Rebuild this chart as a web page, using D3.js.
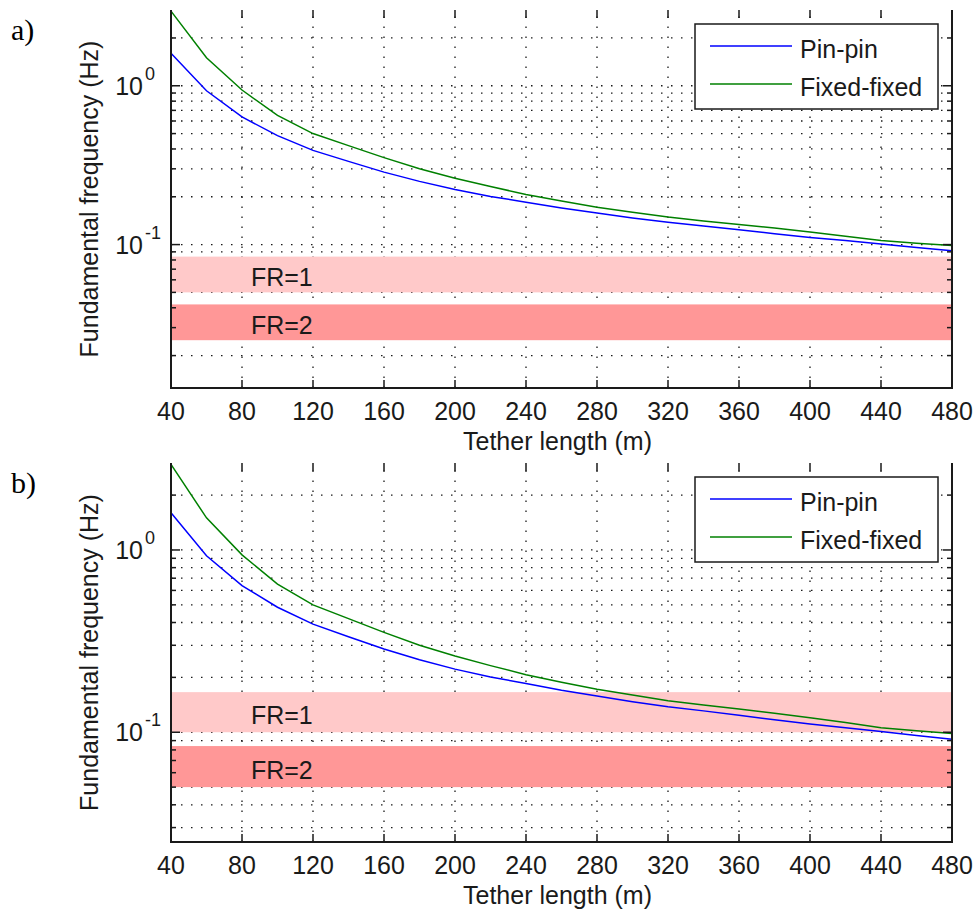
<!DOCTYPE html>
<html>
<head>
<meta charset="utf-8">
<title>Fundamental frequency vs tether length</title>
<style>
  body { margin: 0; background: #fff; }
  svg { display: block; font-family: "Liberation Sans", Arial, sans-serif; }
  .grid line { stroke: #1a1a1a; stroke-width: 1.3; stroke-dasharray: 1.5 8.5; }
  .axis-line { stroke: #1a1a1a; stroke-width: 2; fill: none; }
  .tick { stroke: #1a1a1a; stroke-width: 1.5; }
  .lbl { font-size: 25px; fill: #1a1a1a; }
  .panel-name { font-family: "Liberation Serif", "Times New Roman", serif; font-size: 30px; fill: #000; }
</style>
</head>
<body>
<svg id="chart" width="974" height="913"></svg>
<script src="https://cdn.jsdelivr.net/npm/d3@7/dist/d3.min.js"></script>
<script>
// 20 m steps
const tetherLength = [40, 60, 80, 100, 120, 140, 160, 180, 200, 220, 240, 260,
                      280, 300, 320, 340, 360, 380, 400, 420, 440, 460, 480];
const pinPin = [1.60, 0.93, 0.637, 0.485, 0.392, 0.334, 0.286, 0.250, 0.222, 0.201, 0.185, 0.170,
                0.158, 0.147, 0.138, 0.131, 0.124, 0.117, 0.111, 0.106, 0.101, 0.096, 0.0916];
const fixedFixed = [2.95, 1.50, 0.94, 0.65, 0.50, 0.42, 0.353, 0.300, 0.262, 0.232, 0.207, 0.188,
                    0.172, 0.160, 0.149, 0.141, 0.134, 0.127, 0.120, 0.113, 0.106, 0.102, 0.0985];

const xTicks = [40, 80, 120, 160, 200, 240, 280, 320, 360, 400, 440, 480];
const yMinor = [0.02, 0.03, 0.04, 0.05, 0.06, 0.07, 0.08, 0.09, 0.1,
                0.2, 0.3, 0.4, 0.5, 0.6, 0.7, 0.8, 0.9, 1, 2];
const yMajor = [0.1, 1];
const yMajorExp = ["-1", "0"];

const bandsA = [{name: "FR=1", lo: 0.05, hi: 0.084, color: "#ffc9c9"},
                {name: "FR=2", lo: 0.025, hi: 0.042, color: "#ff9797"}];
const bandsB = [{name: "FR=1", lo: 0.1, hi: 0.166, color: "#ffc9c9"},
                {name: "FR=2", lo: 0.05, hi: 0.084, color: "#ff9797"}];

const seriesNames = ["Pin-pin", "Fixed-fixed"];
const seriesColors = ["#0000ff", "#008000"];

const svg = d3.select("#chart");
const left = 171, right = 952;

function drawPanel(name, top, bottom, yMin, bands) {
  const x = d3.scaleLinear().domain([40, 480]).range([left, right]);
  const y = d3.scaleLog().domain([yMin, 3]).range([bottom, top]);
  const g = svg.append("g");
  const yVals = yMinor.filter(v => v >= yMin && v <= 3);

  // dotted grid
  const grid = g.append("g").attr("class", "grid");
  grid.selectAll(".gx").data(xTicks.slice(1, -1)).enter().append("line")
    .attr("x1", d => x(d)).attr("x2", d => x(d)).attr("y1", bottom).attr("y2", top);
  grid.selectAll(".gy").data(yVals).enter().append("line")
    .attr("x1", left).attr("x2", right).attr("y1", d => y(d)).attr("y2", d => y(d));

  // frequency-ratio bands
  g.selectAll(".band").data(bands).enter().append("rect")
    .attr("x", left).attr("width", right - left)
    .attr("y", d => y(d.hi)).attr("height", d => y(d.lo) - y(d.hi))
    .attr("fill", d => d.color);
  g.selectAll(".band-text").data(bands).enter().append("text")
    .attr("class", "lbl")
    .attr("x", x(85))
    .attr("y", d => (y(d.lo) + y(d.hi)) / 2 + 12)
    .text(d => d.name);

  // curves
  const line = d3.line().x((d, i) => x(tetherLength[i])).y(d => y(d));
  [pinPin, fixedFixed].forEach((s, k) => {
    g.append("path").attr("d", line(s)).attr("fill", "none")
      .attr("stroke", seriesColors[k]).attr("stroke-width", 1.5);
  });

  // axes box (top edge not visible in original)
  g.append("path").attr("class", "axis-line")
    .attr("d", `M${left},${top}V${bottom}H${right}V${top}`);

  // ticks
  const ticks = g.append("g");
  xTicks.forEach(t => {
    ticks.append("line").attr("class", "tick").attr("x1", x(t)).attr("x2", x(t)).attr("y1", bottom).attr("y2", bottom - 8);
    ticks.append("line").attr("class", "tick").attr("x1", x(t)).attr("x2", x(t)).attr("y1", top).attr("y2", top + 8);
  });
  yVals.forEach(v => {
    const len = yMajor.includes(v) ? 9 : 5;
    ticks.append("line").attr("class", "tick").attr("x1", left).attr("x2", left + len).attr("y1", y(v)).attr("y2", y(v));
    ticks.append("line").attr("class", "tick").attr("x1", right).attr("x2", right - len).attr("y1", y(v)).attr("y2", y(v));
  });

  // tick labels
  g.selectAll(".xl").data(xTicks).enter().append("text")
    .attr("class", "lbl").attr("text-anchor", "middle")
    .attr("x", d => x(d)).attr("y", bottom + 32).text(d => d);
  yMajor.forEach((v, i) => {
    g.append("text").attr("class", "lbl").attr("text-anchor", "end")
      .attr("x", 143).attr("y", y(v) + 9).text("10");
    g.append("text").attr("class", "lbl").style("font-size", "18px")
      .attr("x", 145).attr("y", y(v) - 6).text(yMajorExp[i]);
  });

  // axis titles
  g.append("text").attr("class", "lbl").attr("text-anchor", "middle")
    .attr("x", (left + right) / 2 - 4).attr("y", bottom + 62).text("Tether length (m)");
  g.append("text").attr("class", "lbl").attr("text-anchor", "middle")
    .attr("transform", `translate(98,${(top + bottom) / 2}) rotate(-90)`)
    .text("Fundamental frequency (Hz)");

  // legend
  const lg = g.append("g");
  lg.append("rect").attr("x", 695).attr("y", top + 14).attr("width", 243).attr("height", 85)
    .attr("fill", "#fff").attr("stroke", "#1a1a1a").attr("stroke-width", 1.5);
  seriesNames.forEach((s, k) => {
    const ly = top + 36 + k * 38;
    lg.append("line").attr("x1", 710).attr("x2", 792).attr("y1", ly).attr("y2", ly)
      .attr("stroke", seriesColors[k]).attr("stroke-width", 1.5);
    lg.append("text").attr("class", "lbl").attr("x", 800).attr("y", ly + 11.5).text(s);
  });

  svg.append("text").attr("class", "panel-name").attr("x", 11).attr("y", top + 30).text(name);
}

drawPanel("a)", 10, 388, 0.0125, bandsA);
drawPanel("b)", 463, 842, 0.025, bandsB);
</script>
</body>
</html>
